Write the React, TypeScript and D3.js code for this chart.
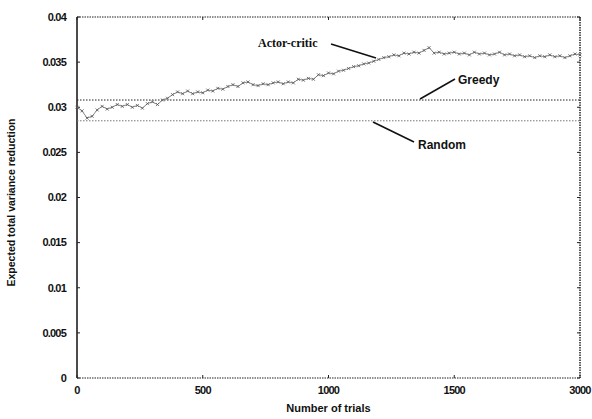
import React from "react";
import * as d3 from "d3";

const trials = [0,20,40,60,80,100,120,140,160,180,200,220,240,260,280,300,320,340,360,380,400,420,440,460,480,500,520,540,560,580,600,620,640,660,680,700,720,740,760,780,800,820,840,860,880,900,920,940,960,980,1000,1020,1040,1060,1080,1100,1120,1140,1160,1180,1200,1220,1240,1260,1280,1300,1320,1340,1360,1380,1400,1420,1440,1460,1480,1500,1520,1540,1560,1580,1600,1620,1640,1660,1680,1700,1720,1740,1760,1780,1800,1820,1840,1860,1880,1900,1920,1940,1960,1980,2000];
const actorCritic = [0.0300,0.0296,0.0288,0.0290,0.0297,0.0301,0.0298,0.0300,0.0303,0.0301,0.0303,0.0300,0.0302,0.0299,0.0304,0.0306,0.0303,0.0308,0.0310,0.0314,0.0317,0.0315,0.0318,0.0315,0.0317,0.0316,0.0319,0.0318,0.0321,0.0320,0.0323,0.0325,0.0323,0.0327,0.0328,0.0325,0.0324,0.0326,0.0325,0.0327,0.0328,0.0326,0.0328,0.0327,0.0331,0.0330,0.0332,0.0331,0.0336,0.0335,0.0338,0.0337,0.0340,0.0341,0.0343,0.0345,0.0346,0.0348,0.0349,0.0351,0.0353,0.0355,0.0356,0.0358,0.0357,0.0360,0.0359,0.0361,0.0360,0.0363,0.0366,0.0360,0.0361,0.0359,0.0360,0.0361,0.0359,0.0360,0.0358,0.0361,0.0359,0.0360,0.0358,0.0359,0.0361,0.0358,0.0359,0.0357,0.0358,0.0356,0.0357,0.0355,0.0357,0.0356,0.0358,0.0356,0.0357,0.0355,0.0357,0.0359,0.0358];
const greedyValue = 0.0308;
const randomValue = 0.0285;
const xTicks = [0, 500, 1000, 1500, 2000];
const xTickLabels = ["0", "500", "1000", "1500", "3000"];
const yTicks = [0, 0.005, 0.01, 0.015, 0.02, 0.025, 0.03, 0.035, 0.04];
const yTickLabels = ["0", "0.005", "0.01", "0.015", "0.02", "0.025", "0.03", "0.035", "0.04"];

export default function App() {
  const W = 592, H = 419;
  const left = 77, right = 580, top = 17, bottom = 378;
  const x = d3.scaleLinear().domain([0, 2000]).range([left, right]);
  const y = d3.scaleLinear().domain([0, 0.04]).range([bottom, top]);
  const pts = trials.map((t, i) => [t, actorCritic[i]] as [number, number]);
  const line = d3.line<[number, number]>().x(d => x(d[0])).y(d => y(d[1]));
  const sans = "Liberation Sans, Arial, sans-serif";
  return (
    <svg width={W} height={H} style={{ position: "absolute", left: 0, top: 0, background: "#fff" }}>
      {/* frame */}
      <line x1={left} x2={left} y1={top} y2={bottom} stroke="#111" strokeWidth={1.5} />
      <line x1={left} x2={right} y1={top} y2={top} stroke="#222" strokeWidth={1.2} strokeDasharray="1.5,1" />
      <line x1={right} x2={right} y1={top} y2={bottom} stroke="#222" strokeWidth={1.5} strokeDasharray="1.5,1" />
      <line x1={left} x2={right} y1={bottom} y2={bottom} stroke="#222" strokeWidth={1.2} strokeDasharray="1.5,1" />
      {yTicks.map((v, i) => (
        <g key={"y" + i}>
          <line x1={left} x2={left + 3} y1={y(v)} y2={y(v)} stroke="#222" />
          <line x1={right} x2={right - 3} y1={y(v)} y2={y(v)} stroke="#222" />
          <text x={left - 11} y={y(v)} dy="0.35em" textAnchor="end" fontFamily={sans} fontSize={11} fontWeight="bold" letterSpacing={-0.8} fill="#111">{yTickLabels[i]}</text>
        </g>
      ))}
      {xTicks.map((v, i) => (
        <g key={"x" + i}>
          <line x1={x(v)} x2={x(v)} y1={bottom} y2={bottom - 3} stroke="#222" />
          <line x1={x(v)} x2={x(v)} y1={top} y2={top + 3} stroke="#222" />
          <text x={x(v)} y={bottom + 16} textAnchor="middle" fontFamily={sans} fontSize={11} fontWeight="bold" letterSpacing={-0.8} fill="#111">{xTickLabels[i]}</text>
        </g>
      ))}
      {/* baselines */}
      <line x1={left} x2={right} y1={y(greedyValue)} y2={y(greedyValue)} stroke="#222" strokeWidth={1} strokeDasharray="1.5,1.5" />
      <line x1={left} x2={right} y1={y(randomValue)} y2={y(randomValue)} stroke="#777" strokeWidth={1} strokeDasharray="1.5,1.5" />
      {/* actor-critic */}
      <path d={line(pts) || ""} fill="none" stroke="#888" strokeWidth={1} />
      {pts.map((p, i) => (
        <path key={"m" + i} d={`M${x(p[0]) - 1.5},${y(p[1]) - 1.5}l3,3M${x(p[0]) - 1.5},${y(p[1]) + 1.5}l3,-3`} stroke="#555" strokeWidth={0.8} />
      ))}
      {/* annotations */}
      <text x={258} y={47} fontFamily="Liberation Serif, Times New Roman, serif" fontSize={12} fontWeight="bold" fill="#111">Actor-critic</text>
      <line x1={331} y1={44} x2={376} y2={58} stroke="#111" strokeWidth={1.6} />
      <text x={458} y={84} fontFamily={sans} fontSize={12} fontWeight="bold" fill="#111">Greedy</text>
      <line x1={455} y1={79} x2={420} y2={99} stroke="#111" strokeWidth={1.6} />
      <text x={418} y={149} fontFamily={sans} fontSize={12} fontWeight="bold" fill="#111">Random</text>
      <line x1={373} y1={122} x2={414} y2={142} stroke="#111" strokeWidth={1.6} />
      {/* axis titles */}
      <text x={(left + right) / 2} y={412} textAnchor="middle" fontFamily={sans} fontSize={11} fontWeight="bold" fill="#111">Number of trials</text>
      <text transform={`translate(15, ${(top + bottom) / 2 + 5}) rotate(-90)`} textAnchor="middle" fontFamily={sans} fontSize={10.5} fontWeight="bold" fill="#111">Expected total variance reduction</text>
    </svg>
  );
}
